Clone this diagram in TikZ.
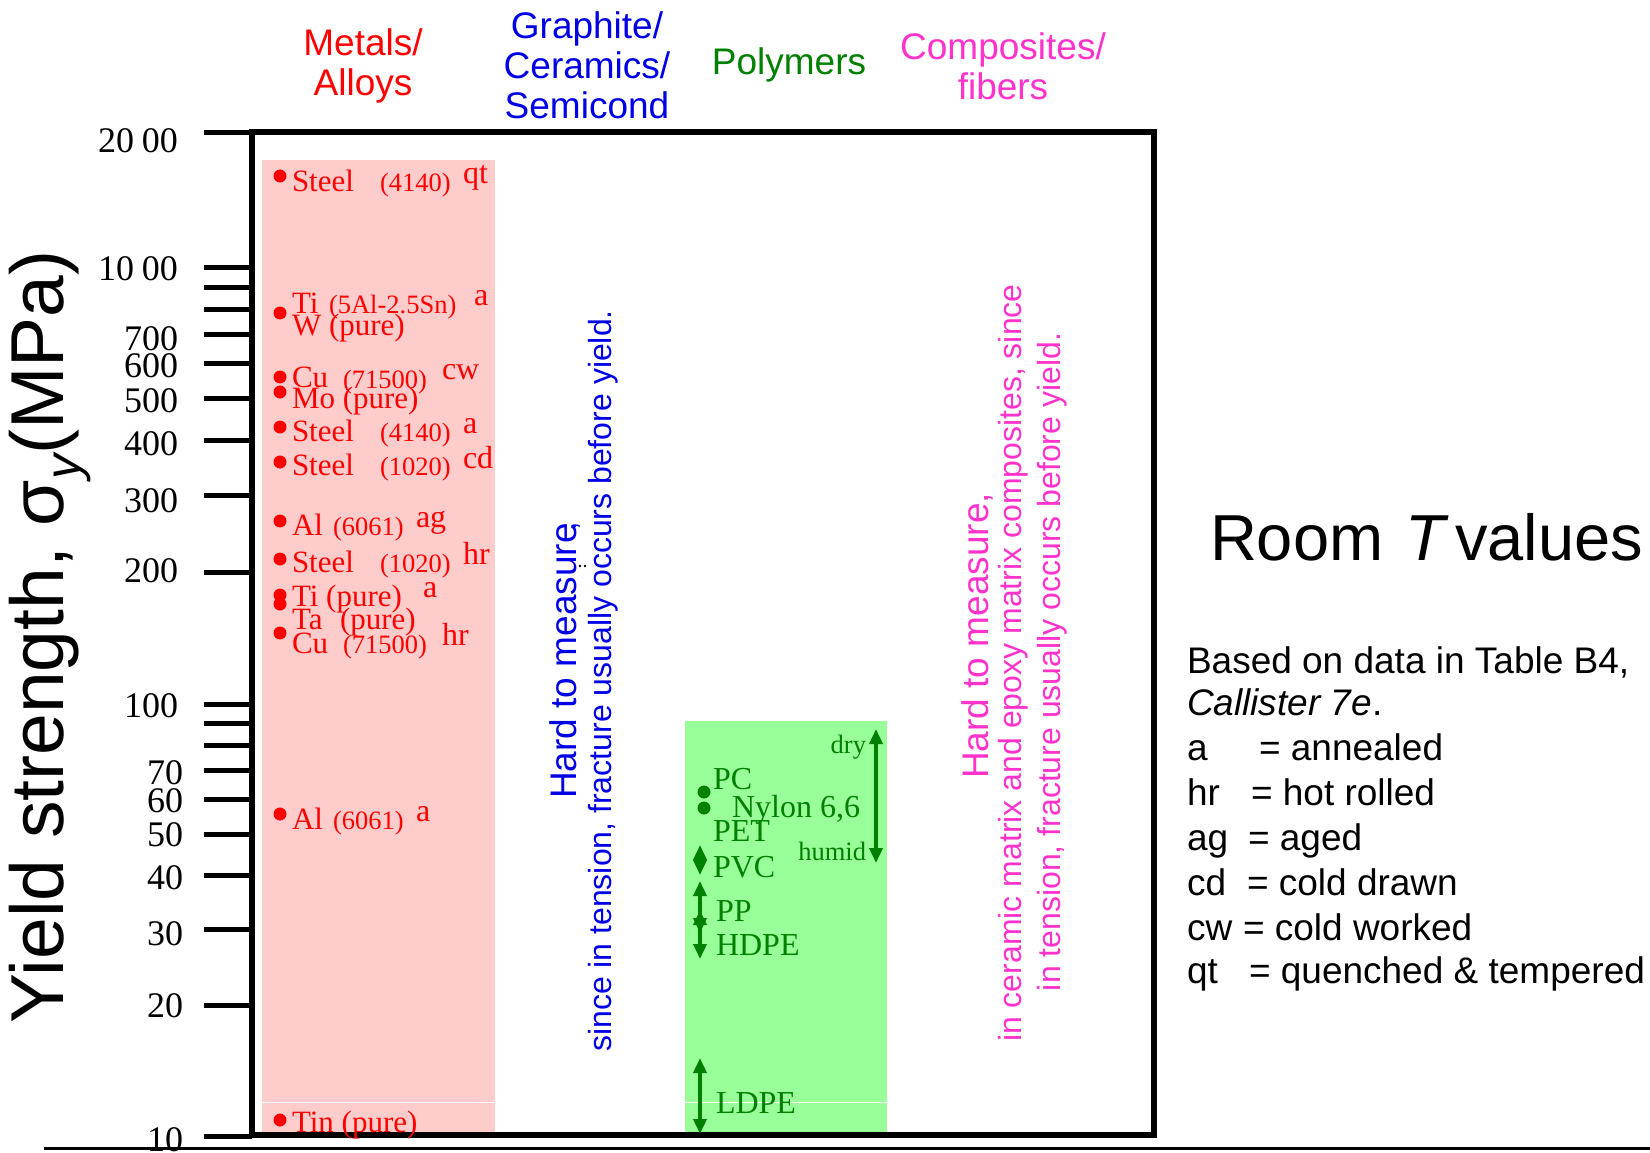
\documentclass[tikz,border=0pt]{standalone}
\usepackage{fontspec}
\setmainfont{Liberation Serif}
\setsansfont{Liberation Sans}
\usetikzlibrary{arrows.meta}
\definecolor{cRed}{RGB}{255,0,0}
\definecolor{cBlue}{RGB}{0,0,230}
\definecolor{cGreen}{RGB}{0,128,0}
\definecolor{cMag}{RGB}{255,51,204}
\definecolor{cPink}{RGB}{255,204,204}
\definecolor{cLime}{RGB}{153,255,153}
\newcommand\fsz[1]{\fontsize{#1}{#1}\selectfont}
\begin{document}
\begin{tikzpicture}[x=1pt,y=-1pt,
  every node/.style={inner sep=0pt, outer sep=0pt},
  mt/.style={anchor=base west, text=cRed, font=\fsz{31}},
  mn/.style={anchor=base west, text=cRed, font=\fsz{26.5}},
  mc/.style={anchor=base west, text=cRed, font=\fsz{32}},
  pt/.style={anchor=base west, text=cGreen, font=\fsz{32}},
  hd/.style={align=center, font=\sffamily\fontsize{37}{40}\selectfont},
  vt/.style={rotate=90, font=\sffamily\fsz{32}},
  tk/.style={line width=5pt},
  tl/.style={anchor=east, font=\fsz{36}},
  lg/.style={anchor=base west, font=\sffamily\fsz{37}},
  mdot/.style={circle, fill=cRed, minimum size=13pt},
  gdot/.style={circle, fill=cGreen, minimum size=13pt},
  garrow/.style={draw=cGreen, line width=3.5pt, {Triangle[length=15pt,width=13pt]}-{Triangle[length=15pt,width=13pt]}},
]
\useasboundingbox (0,0) rectangle (1650,1153);
\fill[white] (0,0) rectangle (1650,1153);

% coloured bands
\fill[cPink] (262,160) rectangle (495,1134);
\fill[cLime] (685,721) rectangle (887,1134);
\draw[white, line width=1pt] (262,1102) -- (495,1102);
\draw[white, line width=1pt] (685,1102) -- (887,1102);

% headers
\node[hd, text=cRed] (hMet) at (363,66) {Metals/\\Alloys};
\node[hd, text=cBlue] (hCer) at (587,65) {Graphite/\\Ceramics/\\Semicond};
\node[hd, text=cGreen] (hPol) at (789,65) {Polymers};
\node[hd, text=cMag] (hCom) at (1003,66) {Composites/\\fibers};

% ticks
\draw[tk] (204,133) -- (252,133);
\foreach \v in {200,300,...,1000}{\pgfmathsetmacro\yy{704-437*log10(\v/100)}\draw[tk] (204,\yy) -- (252,\yy);}
\foreach \v in {10,20,...,100}{\pgfmathsetmacro\yy{1136-432*log10(\v/10)}\draw[tk] (204,\yy) -- (252,\yy);}

% tick labels
\node[tl] (l2000) at (178,141) {20\hspace{8pt}00};
\node[tl] (l1000) at (178,269) {10\hspace{8pt}00};
\node[tl] (l700) at (178,339) {700};
\node[tl] (l600) at (178,366) {600};
\node[tl] (l500) at (178,401) {500};
\node[tl] (l400) at (178,444) {400};
\node[tl] (l300) at (178,501) {300};
\node[tl] (l200) at (178,571) {200};
\node[tl] (l100) at (178,706) {100};
\node[tl] (l70) at (183,773) {70};
\node[tl] (l60) at (183,801) {60};
\node[tl] (l50) at (183,835) {50};
\node[tl] (l40) at (183,878) {40};
\node[tl] (l30) at (183,934) {30};
\node[tl] (l20) at (183,1006) {20};
\node[tl] (l10) at (183,1140) {10};

% frame and base line
\draw[line width=5.5pt] (252,132) rectangle (1154,1135);
\coordinate (baseL) at (44,1148);
\coordinate (baseR) at (1650,1148);
\draw[line width=3pt] (baseL) -- (baseR);

% y axis label
\node[rotate=90, font=\sffamily\fsz{75}] (ylab) at (50,637) {Yield strength, σ\raisebox{-0.22em}{\fsz{50}\itshape y}(MPa)};

% metals
\node[mdot] (d1) at (280,176) {};
\node[mt] (m1) at (292,191) {Steel};
\node[mn] (m1n) at (380,191) {(4140)};
\node[mc] (m1c) at (463,183) {qt};
\node[mdot] (d2) at (280,313) {};
\node[mt] (m2) at (292,313) {Ti};
\node[mn] (m2n) at (329,313) {(5Al-2.5Sn)};
\node[mc] (m2c) at (474,305) {a};
\node[mt] (m3) at (292,335) {W (pure)};
\node[mdot] (d4) at (280,377) {};
\node[mt] (m4) at (292,387) {Cu};
\node[mn] (m4n) at (343,388) {(71500)};
\node[mc] (m4c) at (442,379) {cw};
\node[mdot] (d5) at (280,392) {};
\node[mt] (m5) at (292,408) {Mo (pure)};
\node[mdot] (d6) at (280,427) {};
\node[mt] (m6) at (292,441) {Steel};
\node[mn] (m6n) at (380,441) {(4140)};
\node[mc] (m6c) at (463,433) {a};
\node[mdot] (d7) at (280,462) {};
\node[mt] (m7) at (292,475) {Steel};
\node[mn] (m7n) at (380,475) {(1020)};
\node[mc] (m7c) at (463,468) {cd};
\node[mdot] (d8) at (280,521) {};
\node[mt] (m8) at (292,535) {Al};
\node[mn] (m8n) at (333,535) {(6061)};
\node[mc] (m8c) at (416,527) {ag};
\node[mdot] (d9) at (280,559) {};
\node[mt] (m9) at (292,572) {Steel};
\node[mn] (m9n) at (380,572) {(1020)};
\node[mc] (m9c) at (463,564) {hr};
\node[mdot] (d10) at (280,595) {};
\node[mt] (m10) at (292,606) {Ti (pure)};
\node[mc] (m10c) at (423,597) {a};
\node[mdot] (d11) at (280,604) {};
\node[mt] (m11) at (292,629) {Ta};
\node[mt] (m11n) at (340,629) {(pure)};
\node[mdot] (d12) at (280,633) {};
\node[mt] (m12) at (292,653) {Cu};
\node[mn] (m12n) at (343,653) {(71500)};
\node[mc] (m12c) at (442,645) {hr};
\node[mdot] (d13) at (280,814) {};
\node[mt] (m13) at (292,829) {Al};
\node[mn] (m13n) at (333,829) {(6061)};
\node[mc] (m13c) at (416,821) {a};
\node[mdot] (d14) at (280,1120) {};
\node[mt] (m14) at (292,1132) {Tin (pure)};

% ceramics column text
\node[vt, font=\sffamily\fsz{37}, text=cBlue] (cerA) at (563,661) {Hard to measure};
\node[rotate=90, font=\sffamily\fsz{30}, text=cBlue] (cerComma) at (577,526) {,};
\fill (580,566) circle (1.3pt);
\fill (585,566) circle (1.3pt);
\node[vt, text=cBlue] (cerB) at (603,681) {since in tension, fracture usually occurs before yield.};

% polymers
\node[gdot] (g1) at (704,792) {};
\node[gdot] (g2) at (704,808) {};
\node[pt] (pPC) at (713,789) {PC};
\node[pt] (pNy) at (732,817) {Nylon 6,6};
\node[pt] (pPET) at (713,841) {PET};
\node[pt] (pPVC) at (713,877) {PVC};
\node[pt] (pPP) at (716,921) {PP};
\node[pt] (pHD) at (716,955) {HDPE};
\node[pt] (pLD) at (716,1113) {LDPE};
\node[anchor=base east, text=cGreen, font=\fsz{26.5}] (pdry) at (866,753) {dry};
\node[anchor=base east, text=cGreen, font=\fsz{26.5}] (phum) at (866,860) {humid};
\coordinate (pvcA) at (700,845); \coordinate (pvcB) at (700,875);
\coordinate (ppA) at (700,881); \coordinate (ppB) at (700,933);
\coordinate (hdA) at (700,910); \coordinate (hdB) at (700,959);
\coordinate (ldA) at (700,1058); \coordinate (ldB) at (700,1134);
\coordinate (nyA) at (876,729); \coordinate (nyB) at (876,863);
\draw[garrow] (pvcA) -- (pvcB);
\draw[garrow] (ppA) -- (ppB);
\draw[garrow] (hdA) -- (hdB);
\draw[garrow] (ldA) -- (ldB);
\draw[garrow] (nyA) -- (nyB);

% composites column text
\node[vt, font=\sffamily\fsz{37}, text=cMag] (comA) at (977,636) {Hard to measure,};
\node[vt, text=cMag] (comB) at (1013,663) {in ceramic matrix and epoxy matrix composites, since};
\node[vt, text=cMag] (comC) at (1052,662) {in tension, fracture usually occurs before yield.};

% right side
\node[anchor=base west, font=\sffamily\fsz{65}] (rt1) at (1210,560) {Room};
\node[anchor=base west, font=\sffamily\itshape\fsz{65}] (rt2) at (1405,560) {T};
\node[anchor=base west, font=\sffamily\fsz{65}] (rt3) at (1455,560) {values};

\node[lg] (lg1) at (1187,673) {Based on data in Table B4,};
\node[lg] (lg2) at (1187,715) {\textit{Callister 7e}.};
\node[lg] (lg3a) at (1187,760) {a};
\node[lg] (lg3b) at (1259,760) {= annealed};
\node[lg] (lg4a) at (1187,805) {hr};
\node[lg] (lg4b) at (1251,805) {= hot rolled};
\node[lg] (lg5a) at (1187,850) {ag};
\node[lg] (lg5b) at (1248,850) {= aged};
\node[lg] (lg6a) at (1187,895) {cd};
\node[lg] (lg6b) at (1247,895) {= cold drawn};
\node[lg] (lg7a) at (1187,940) {cw};
\node[lg] (lg7b) at (1243,940) {= cold worked};
\node[lg] (lg8a) at (1187,983) {qt};
\node[lg] (lg8b) at (1249,983) {= quenched \& tempered};
\end{tikzpicture}
\end{document}
